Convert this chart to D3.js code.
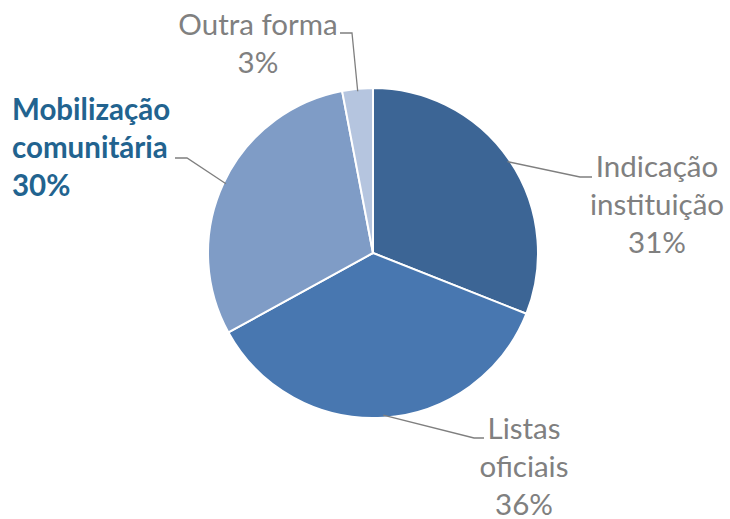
<!DOCTYPE html>
<html>
<head>
<meta charset="utf-8">
<script src="https://cdn.jsdelivr.net/npm/d3@7"></script>
<style>
  body { margin: 0; background: #fff; }
  svg { display: block; font-family: Lato, "Open Sans", sans-serif; }
</style>
</head>
<body>
<div id="wrapper"></div>
<script>
// data
const categories = ["Indicação instituição", "Listas oficiais", "Mobilização comunitária", "Outra forma"]
const labelLines = [["Indicação", "instituição"], ["Listas", "oficiais"], ["Mobilização", "comunitária"], ["Outra forma"]]
const values = [31, 36, 30, 3]
const colors = ["#3c6595", "#4877b0", "#7f9cc6", "#b5c5df"]

// label layout: leader elbow point, label anchor, alignment (layout only)
const labelLayout = [
  { elbow: [580, 177], end: [592, 177], x: 657, y: 167, anchor: "middle" },
  { elbow: [474, 438], end: [484, 438], x: 524, y: 429, anchor: "middle" },
  { elbow: [187, 158], end: [175, 158], x: 12, y: 110, anchor: "start" },
  { elbow: [352, 33], end: [340, 33], x: 258, y: 25, anchor: "middle" },
]

function drawPie() {
  const width = 730
  const height = 519
  const center = { x: 373, y: 253 }
  const radius = 165

  const svg = d3.select("#wrapper")
    .append("svg")
    .attr("width", width)
    .attr("height", height)

  const data = categories.map((c, i) => ({ name: c, value: values[i], i }))

  const pie = d3.pie()
    .sort(null)
    .value(d => d.value)
  const arcs = pie(data)

  const arc = d3.arc().innerRadius(0).outerRadius(radius)
  const edgeArc = d3.arc().innerRadius(radius * 0.985).outerRadius(radius * 0.985)

  const g = svg.append("g")
    .attr("transform", `translate(${center.x},${center.y})`)

  g.selectAll("path.slice")
    .data(arcs)
    .join("path")
    .attr("class", "slice")
    .attr("d", arc)
    .attr("fill", d => colors[d.data.i])
    .attr("stroke", "#fff")
    .attr("stroke-width", 2)
    .attr("stroke-linejoin", "round")

  // leader lines
  svg.selectAll("polyline.leader")
    .data(arcs)
    .join("polyline")
    .attr("class", "leader")
    .attr("points", d => {
      const [cx, cy] = edgeArc.centroid(d)
      const L = labelLayout[d.data.i]
      return [[cx + center.x, cy + center.y], L.elbow, L.end].map(p => p.join(",")).join(" ")
    })
    .attr("fill", "none")
    .attr("stroke", "#7f7f7f")
    .attr("stroke-width", 1.3)

  // labels
  const lineHeight = 38
  const labels = svg.selectAll("text.label")
    .data(arcs)
    .join("text")
    .attr("class", "label")
    .attr("text-anchor", d => labelLayout[d.data.i].anchor)
    .attr("font-size", 29.5)
    .attr("font-weight", d => d.data.i === 2 ? "bold" : "normal")
    .attr("fill", d => d.data.i === 2 ? "#22638f" : "#808080")

  labels.each(function(d) {
    const L = labelLayout[d.data.i]
    const lines = labelLines[d.data.i].concat([d.data.value + "%"])
    d3.select(this).selectAll("tspan")
      .data(lines)
      .join("tspan")
      .attr("x", L.x)
      .attr("y", (t, k) => L.y + k * lineHeight)
      .attr("dy", "0.35em")
      .text(t => t)
  })
}

drawPie()
</script>
</body>
</html>
